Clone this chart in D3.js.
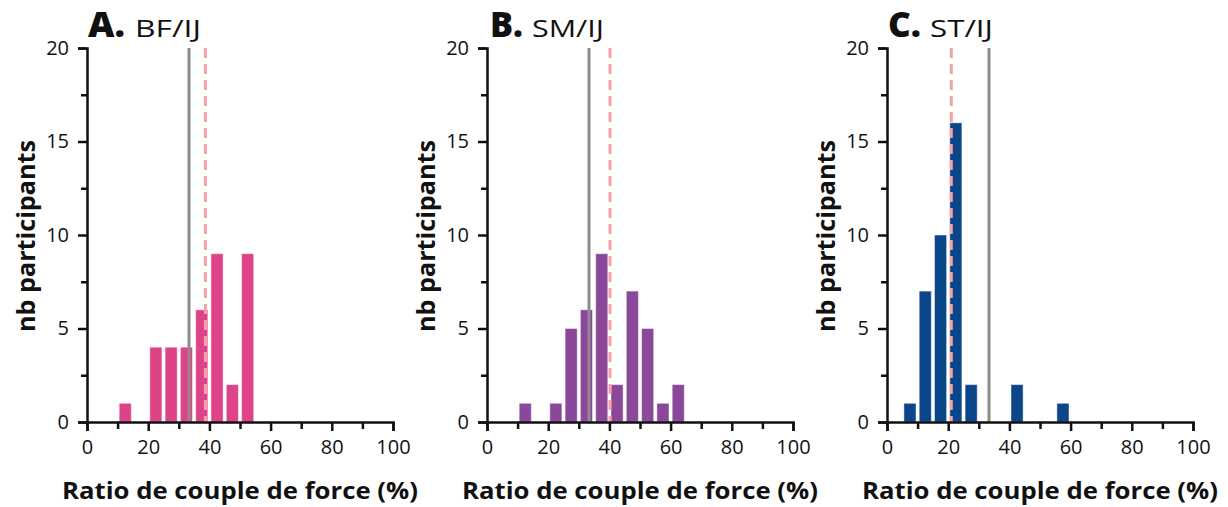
<!DOCTYPE html>
<html><head><meta charset="utf-8">
<script src="https://cdn.jsdelivr.net/npm/d3@7"></script>
<style>body{margin:0;background:#fff}svg{display:block}</style>
</head><body>
<script>
// bins (lower edges, width 5)
const binStarts = [0,5,10,15,20,25,30,35,40,45,50,55,60,65,70,75,80,85,90,95];
const countsA = [0,0,1,0,4,4,4,6,9,2,9,0,0,0,0,0,0,0,0,0];
const countsB = [0,0,1,0,1,5,6,9,2,7,5,1,2,0,0,0,0,0,0,0];
const countsC = [0,1,7,10,16,2,0,0,2,0,0,1,0,0,0,0,0,0,0,0];
const panelLetters = ["A.","B.","C."];
const panelNames = ["BF/IJ","SM/IJ","ST/IJ"];
const refLine = [33.33,33.33,33.33];
const meanLine = [38.7,40.2,21.0];
const colors = ["#DF4387","#8B4799","#0C468A"];
const xTicks = [0,20,40,60,80,100];
const yTicks = [0,5,10,15,20];
const xTitle = "Ratio de couple de force (%)";
const yTitle = "nb participants";

const W=1228,H=507;
const svg=d3.select("body").append("svg").attr("width",W).attr("height",H);
const font="'Open Sans', Lato, sans-serif";
const allCounts=[countsA,countsB,countsC];
const binW=5;
// title layout (styling only)
const letterX=[88,490,888], letterW=[37,33,33];
const nameX=[135,532,930], nameW=[66,72,63];

allCounts.forEach((counts,i)=>{
  const ox=i*400;
  const g=svg.append("g").attr("transform",`translate(${ox},0)`);
  const x=d3.scaleLinear().domain([0,100]).range([87,393]);
  const y=d3.scaleLinear().domain([0,20]).range([422,48]);

  const data=binStarts.map((b,k)=>({b,c:counts[k]})).filter(d=>d.c>0);
  g.selectAll("rect.bar").data(data).enter().append("rect")
    .attr("x",d=>x(d.b)+1.6).attr("width",d=>x(d.b+binW)-x(d.b)-3.2)
    .attr("y",d=>y(d.c)).attr("height",d=>y(0)-y(d.c))
    .attr("fill",colors[i]).attr("stroke","rgba(255,255,255,0.45)").attr("stroke-width",1);

  g.append("line").attr("x1",x(refLine[i])).attr("x2",x(refLine[i]))
    .attr("y1",y(20)).attr("y2",y(0)).attr("stroke","#8c8c8c").attr("stroke-width",3);
  g.append("line").attr("x1",x(meanLine[i])).attr("x2",x(meanLine[i]))
    .attr("y1",y(20)).attr("y2",y(0)).attr("stroke","#F7A1A6").attr("stroke-width",3)
    .attr("stroke-dasharray","10,6");

  const xa=g.append("g").attr("transform",`translate(0,${y(0)})`)
    .call(d3.axisBottom(x).tickValues(d3.range(0,101,10)).tickSize(9).tickFormat(d=>xTicks.includes(d)?d:""));
  xa.select(".domain").attr("stroke","#111").attr("stroke-width",2.5);
  xa.selectAll(".tick line").attr("stroke","#111").attr("stroke-width",2.5);
  xa.selectAll(".tick").filter(d=>!xTicks.includes(d)).select("line").attr("y2",7);
  xa.selectAll(".tick text").attr("font-family",font).attr("font-size",20).attr("fill","#111").attr("dy","1.0em");

  const ya=g.append("g").attr("transform",`translate(${x(0)},0)`)
    .call(d3.axisLeft(y).tickValues(d3.range(0,20.1,2.5)).tickSize(9).tickFormat(d=>yTicks.includes(d)?d:""));
  ya.select(".domain").attr("stroke","#111").attr("stroke-width",2.5);
  ya.selectAll(".tick line").attr("stroke","#111").attr("stroke-width",2.5);
  ya.selectAll(".tick").filter(d=>!yTicks.includes(d)).select("line").attr("x2",-6);
  ya.selectAll(".tick text").attr("font-family",font).attr("font-size",20).attr("fill","#111").attr("x",-18);

  g.append("text").attr("x",240).attr("y",499).attr("text-anchor","middle")
    .attr("font-family",font).attr("font-weight",700).attr("font-size",24).attr("fill","#111")
    .attr("textLength",356).attr("lengthAdjust","spacingAndGlyphs").text(xTitle);
  g.append("text").attr("transform",`translate(35,236) rotate(-90)`).attr("text-anchor","middle")
    .attr("font-family",font).attr("font-weight",700).attr("font-size",25).attr("fill","#111")
    .attr("textLength",192).attr("lengthAdjust","spacingAndGlyphs").text(yTitle);

  g.append("text").attr("x",letterX[i]-ox).attr("y",37).attr("font-family",font).attr("fill","#111")
    .attr("font-weight",800).attr("font-size",35)
    .attr("textLength",letterW[i]).attr("lengthAdjust","spacingAndGlyphs").text(panelLetters[i]);
  g.append("text").attr("x",nameX[i]-ox).attr("y",37).attr("font-family",font).attr("fill","#111")
    .attr("font-size",24)
    .attr("textLength",nameW[i]).attr("lengthAdjust","spacingAndGlyphs").text(panelNames[i]);
});
</script>
</body></html>
